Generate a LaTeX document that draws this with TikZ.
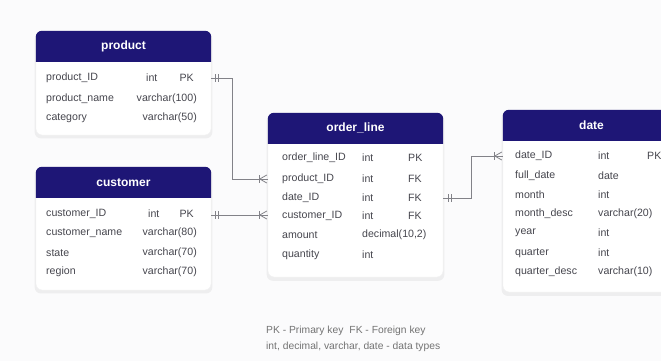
\documentclass[tikz,border=0pt]{standalone}
\usepackage{fontspec}
\setmainfont{Liberation Sans}
\usetikzlibrary{shadows}
\definecolor{hdr}{RGB}{30,22,118}
\definecolor{celltxt}{RGB}{70,70,78}
\definecolor{conn}{RGB}{130,130,136}
\definecolor{bgc}{RGB}{251,251,252}
\tikzset{
  card/.style={draw=black!6, fill=white, rounded corners=6pt, line width=0.4pt,
    drop shadow={opacity=0.10, shadow xshift=0pt, shadow yshift=-2.5pt, shadow scale=1.015}},
  hdrtext/.style={text=white, font=\fontsize{12}{13}\selectfont\bfseries},
  cell/.style={text=celltxt, font=\fontsize{10.6}{12}\selectfont, inner sep=0pt, anchor=west},
  cellr/.style={text=celltxt, font=\fontsize{10.6}{12}\selectfont, inner sep=0pt, anchor=east},
  link/.style={draw=conn, line width=0.8pt},
  note/.style={text=black!55, font=\fontsize{10.3}{11}\selectfont, inner sep=0pt, anchor=west}
}
\newcommand{\cardhead}[2]{%
  \fill[hdr] ([yshift=-31pt]#1.north west) [rounded corners=6pt] -- (#1.north west) -- (#1.north east) [sharp corners] -- ([yshift=-31pt]#1.north east) -- cycle;
  \node[hdrtext] (#1-t) at ([yshift=-15.5pt]#1.north) {#2};}
\begin{document}
\begin{tikzpicture}[x=1pt,y=-1pt]
\clip (0,0) rectangle (661,361);
\fill[bgc] (0,0) rectangle (661,361);

% cards
\node[card, minimum width=175pt, minimum height=104pt] (product) at (123.5,83) {};
\node[card, minimum width=175pt, minimum height=123pt] (customer) at (123.5,228.5) {};
\node[card, minimum width=175pt, minimum height=164pt] (orderline) at (355.5,195) {};
\node[card, minimum width=177pt, minimum height=182pt] (date) at (591.5,201) {};

\cardhead{product}{product}
\cardhead{customer}{customer}
\cardhead{orderline}{order\_line}
\cardhead{date}{date}

% product rows
\node[cell] (p1) at (46,78) {product\_ID};
\node[cell] (p1t) at (146,78) {int};
\node[cellr] (p1k) at (194,78) {PK};
\node[cell] (p2) at (46,99) {product\_name};
\node[cellr] (p2t) at (197,99) {varchar(100)};
\node[cell] (p3) at (46,118) {category};
\node[cellr] (p3t) at (197,118) {varchar(50)};

% customer rows
\node[cell] (c1) at (46,214) {customer\_ID};
\node[cell] (c1t) at (148,214) {int};
\node[cellr] (c1k) at (194,214) {PK};
\node[cell] (c2) at (46,233) {customer\_name};
\node[cellr] (c2t) at (197,233) {varchar(80)};
\node[cell] (c3) at (46,253) {state};
\node[cellr] (c3t) at (197,253) {varchar(70)};
\node[cell] (c4) at (46,272) {region};
\node[cellr] (c4t) at (197,272) {varchar(70)};

% order_line rows
\node[cell] (o1) at (282,158) {order\_line\_ID};
\node[cell] (o1t) at (362,158) {int};
\node[cell] (o1k) at (408,158) {PK};
\node[cell] (o2) at (282,179) {product\_ID};
\node[cell] (o2t) at (362,179) {int};
\node[cell] (o2k) at (408,179) {FK};
\node[cell] (o3) at (282,198) {date\_ID};
\node[cell] (o3t) at (362,198) {int};
\node[cell] (o3k) at (408,198) {FK};
\node[cell] (o4) at (282,216) {customer\_ID};
\node[cell] (o4t) at (362,216) {int};
\node[cell] (o4k) at (408,216) {FK};
\node[cell] (o5) at (282,235) {amount};
\node[cell] (o5t) at (362,235) {decimal(10,2)};
\node[cell] (o6) at (282,255) {quantity};
\node[cell] (o6t) at (362,255) {int};

% date rows
\node[cell] (d1) at (515,156) {date\_ID};
\node[cell] (d1t) at (598,156) {int};
\node[cell] (d1k) at (647,156) {PK};
\node[cell] (d2) at (515,176) {full\_date};
\node[cell] (d2t) at (598,176) {date};
\node[cell] (d3) at (515,195) {month};
\node[cell] (d3t) at (598,195) {int};
\node[cell] (d4) at (515,214) {month\_desc};
\node[cell] (d4t) at (598,214) {varchar(20)};
\node[cell] (d5) at (515,233) {year};
\node[cell] (d5t) at (598,233) {int};
\node[cell] (d6) at (515,253) {quarter};
\node[cell] (d6t) at (598,253) {int};
\node[cell] (d7) at (515,272) {quarter\_desc};
\node[cell] (d7t) at (598,272) {varchar(10)};

% connector end points
\coordinate (pa) at (product.east |- p1);
\coordinate (pb) at (orderline.west |- o2);
\coordinate (ca) at (customer.east |- 0,215);
\coordinate (cb) at (orderline.west |- 0,215);
\coordinate (oa) at (orderline.east |- o3);
\coordinate (da) at (date.west |- d1);

% product -> order_line
\draw[link] (pa) -- ++(21,0) |- (pb);
\draw[link] ([xshift=4pt]pa) ++(0,-4) -- ++(0,8);
\draw[link] ([xshift=7pt]pa) ++(0,-4) -- ++(0,8);
\draw[link] ([xshift=-8pt]pb) ++(0,-4) -- ++(0,8);
\draw[link] ([xshift=-8pt]pb) -- ([xshift=-1pt,yshift=-4pt]pb);
\draw[link] ([xshift=-8pt]pb) -- ([xshift=-1pt,yshift=4pt]pb);

% customer -> order_line
\draw[link] (ca) -- (cb);
\draw[link] ([xshift=4pt]ca) ++(0,-4) -- ++(0,8);
\draw[link] ([xshift=7pt]ca) ++(0,-4) -- ++(0,8);
\draw[link] ([xshift=-8pt]cb) ++(0,-4) -- ++(0,8);
\draw[link] ([xshift=-8pt]cb) -- ([xshift=-1pt,yshift=-4pt]cb);
\draw[link] ([xshift=-8pt]cb) -- ([xshift=-1pt,yshift=4pt]cb);

% order_line -> date
\draw[link] (oa) -- ++(28,0) |- (da);
\draw[link] ([xshift=5pt]oa) ++(0,-4) -- ++(0,8);
\draw[link] ([xshift=8pt]oa) ++(0,-4) -- ++(0,8);
\draw[link] ([xshift=-8pt]da) ++(0,-4) -- ++(0,8);
\draw[link] ([xshift=-8pt]da) -- ([xshift=-1pt,yshift=-4pt]da);
\draw[link] ([xshift=-8pt]da) -- ([xshift=-1pt,yshift=4pt]da);

% legend
\node[note] (n1) at (266,331) {PK - Primary key\hspace{6pt}FK - Foreign key};
\node[note] (n2) at (266,347) {int, decimal, varchar, date - data types};
\end{tikzpicture}
\end{document}
